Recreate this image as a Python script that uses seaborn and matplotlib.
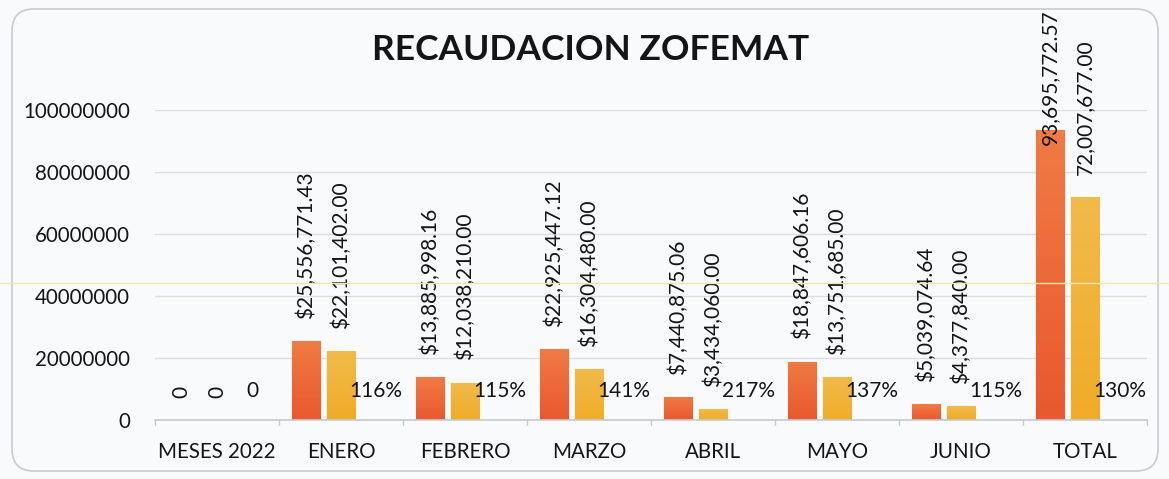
import numpy as np
import pandas as pd
import matplotlib
matplotlib.use("Agg")
import matplotlib.pyplot as plt
from matplotlib.patches import FancyBboxPatch
from matplotlib.lines import Line2D
from matplotlib.colors import LinearSegmentedColormap
import seaborn as sns

# Datos
categorias = ["MESES 2022", "ENERO", "FEBRERO", "MARZO", "ABRIL", "MAYO", "JUNIO", "TOTAL"]
recaudado_2022 = [0, 25556771.43, 13885998.16, 22925447.12, 7440875.06, 18847606.16, 5039074.64, 93695772.57]
recaudado_2021 = [0, 22101402.00, 12038210.00, 16304480.00, 3434060.00, 13751685.00, 4377840.00, 72007677.00]
porcentaje = [0, 1.16, 1.15, 1.41, 2.17, 1.37, 1.15, 1.30]
series = ["2022", "2021", "pct"]
colores = ["#EC6636", "#F2B236", "#DDDDDD"]

df = pd.DataFrame({
    "mes": categorias * 3,
    "serie": [s for s in series for _ in categorias],
    "valor": recaudado_2022 + recaudado_2021 + porcentaje,
})

sns.set_theme(style="white")
plt.rcParams["font.family"] = ["Lato", "DejaVu Sans"]

fig = plt.figure(figsize=(11.69, 4.79), dpi=100)
fig.patch.set_facecolor("#F9FAFC")
marco = FancyBboxPatch((12, 8), 1146, 462, boxstyle="round,pad=0,rounding_size=22",
                       transform=None, facecolor="#F8FAFC", edgecolor="#C9CBCE",
                       linewidth=1.2, zorder=-10)
fig.add_artist(marco)

ax = fig.add_axes([155 / 1169, 59 / 479, 992 / 1169, 310 / 479])
ax.set_facecolor("none")
sns.barplot(data=df, x="mes", y="valor", hue="serie", hue_order=series, palette=colores,
            width=0.85, gap=0.2, ax=ax, legend=False, saturation=1)

ax.set_ylim(0, 1.0e8)
ax.set_xlim(-0.5, len(categorias) - 0.5)

# degradado suave en las barras
grad_naranja = LinearSegmentedColormap.from_list("n", ["#E9582E", "#F07B44"])
grad_amarillo = LinearSegmentedColormap.from_list("a", ["#F0AC28", "#F1BA4A"])
for cont, cmap, borde in [(ax.containers[0], grad_naranja, "#E8442A"),
                          (ax.containers[1], grad_amarillo, "#F0B236")]:
    for patch in cont:
        h = patch.get_height()
        if h <= 0:
            continue
        x0 = patch.get_x()
        w = patch.get_width()
        g = np.linspace(0, 1, 64).reshape(-1, 1)
        im = ax.imshow(g, cmap=cmap, origin="lower", aspect="auto",
                       extent=(x0, x0 + w, 0, h), zorder=patch.get_zorder() + 0.1)
        im.set_clip_path(patch)
        patch.set_edgecolor(borde)
        patch.set_linewidth(0.8)
ax.set_ylim(0, 1.0e8)
ax.set_xlim(-0.5, len(categorias) - 0.5)

ax.set_yticks(np.arange(0, 1.0e8 + 1, 2e7))
ax.yaxis.set_major_formatter(matplotlib.ticker.FuncFormatter(lambda v, p: f"{int(v)}"))
ax.grid(axis="y", color="#DADDE3", linewidth=1.0)
ax.set_axisbelow(True)
for s in ["top", "right", "left"]:
    ax.spines[s].set_visible(False)
ax.spines["bottom"].set_color("#C8CBD0")
ax.set_xlabel("")
ax.set_ylabel("")
ax.set_xticks(np.arange(len(categorias)))
ax.set_xticklabels(categorias)
ax.tick_params(axis="x", length=0, pad=16, labelsize=14.8, labelcolor="#151515")
ax.tick_params(axis="y", length=0, pad=18, labelsize=14.8, labelcolor="#151515")
# marcas entre categorias
for b in np.arange(-0.5, len(categorias), 1.0):
    ax.add_line(Line2D([b, b], [0, -0.016], transform=ax.get_xaxis_transform(),
                       color="#C8CBD0", linewidth=1, clip_on=False))

fig.text(0.505, 1 - 50 / 479, "RECAUDACION ZOFEMAT", ha="center", va="center",
         fontsize=25.5, fontweight="bold", color="#151515")

# etiquetas de las barras
rotadas = []
for k, cont in enumerate(ax.containers[:2]):
    for i, patch in enumerate(cont):
        v = patch.get_height()
        if v == 0:
            txt = "0"
        elif categorias[i] == "TOTAL":
            txt = f"{v:,.2f}"
        else:
            txt = f"${v:,.2f}"
        t = ax.annotate(txt, (patch.get_x() + patch.get_width() / 2, v), xytext=(0, 16),
                        textcoords="offset points", rotation=90, ha="center", va="bottom",
                        fontsize=15, color="#151515", annotation_clip=False)
        rotadas.append(t)

for i, patch in enumerate(ax.containers[2]):
    v = porcentaje[i]
    txt = "0" if v == 0 else f"{v * 100:.0f}%"
    ax.annotate(txt, (patch.get_x() + patch.get_width() / 2, patch.get_height()), xytext=(0, 21),
                textcoords="offset points", ha="center", va="center",
                fontsize=15, color="#151515", annotation_clip=False)

# linea del escaneo
fig.add_artist(Line2D([0, 1], [1 - 283 / 479] * 2, transform=fig.transFigure,
                      color="#F3E7A6", linewidth=1.0, zorder=5))

# ajustar etiquetas que se salen por arriba
fig.canvas.draw()
r = fig.canvas.get_renderer()
for t in rotadas:
    bb = t.get_window_extent(r)
    limite = fig.bbox.height - 9
    if bb.y1 > limite:
        dx, dy = t.xyann
        t.xyann = (dx, dy - (bb.y1 - limite) * 72 / fig.dpi)

fig.savefig("out.png", dpi=100, facecolor=fig.get_facecolor())
